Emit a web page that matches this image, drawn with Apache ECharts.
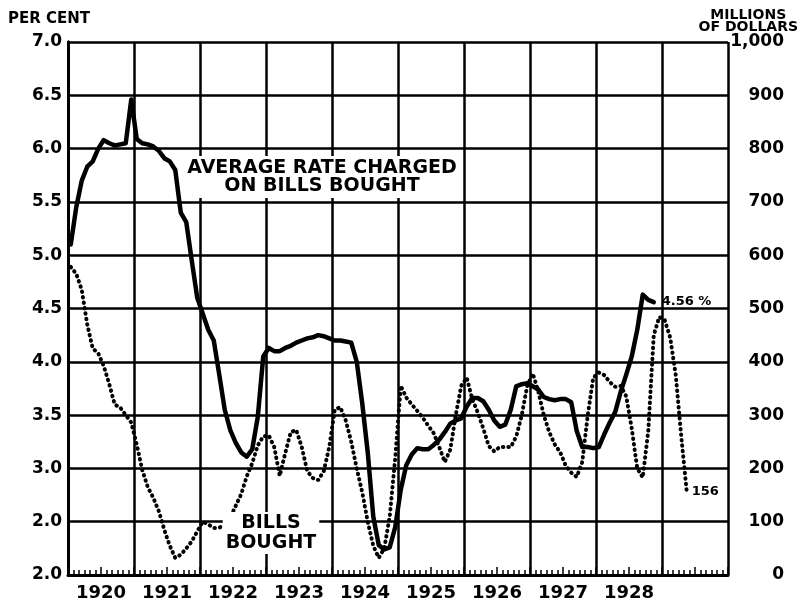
<!DOCTYPE html>
<html>
<head>
<meta charset="utf-8">
<title>Bills bought and average rate</title>
<script src="https://cdn.jsdelivr.net/npm/echarts@6/dist/echarts.min.js"></script>
<style>
  html, body { margin: 0; padding: 0; background: #fff; }
  #chart { width: 802px; height: 602px; }
</style>
</head>
<body>
<div id="chart"></div>
<script>
  const FONT = '"DejaVu Sans", sans-serif';

  // year labels, one per interval (last interval 1929 is unlabelled)
  const years = ['1920', '1921', '1922', '1923', '1924', '1925', '1926', '1927', '1928', ''];
  const rateLabels = ['2.0', '2.0', '3.0', '3.5', '4.0', '4.5', '5.0', '5.5', '6.0', '6.5', '7.0'];
  const dollarLabels = ['0', '100', '200', '300', '400', '500', '600', '700', '800', '900', '1,000'];

  // monthly values from Jan 1920
  const rate = [
    5.10, 5.45, 5.70, 5.83, 5.88, 6.00, 6.08, 6.05, 6.03, 6.04, 6.05, 6.46,
    6.09, 6.05, 6.04, 6.02, 5.98, 5.91, 5.88, 5.80, 5.40, 5.31, 4.95, 4.60,
    4.45, 4.30, 4.20, 3.88, 3.55, 3.36, 3.24, 3.15, 3.11, 3.18, 3.48, 4.05,
    4.13, 4.10, 4.10, 4.13, 4.15, 4.18, 4.20, 4.22, 4.23, 4.25, 4.24, 4.22,
    4.20, 4.20, 4.19, 4.18, 4.00, 3.61, 3.15, 2.55, 2.28, 2.24, 2.26, 2.45,
    2.80, 3.03, 3.13, 3.19, 3.18, 3.18, 3.22, 3.27, 3.34, 3.42, 3.45, 3.47,
    3.58, 3.66, 3.66, 3.63, 3.55, 3.45, 3.39, 3.41, 3.55, 3.77, 3.79, 3.80,
    3.77, 3.74, 3.67, 3.65, 3.64, 3.65, 3.65, 3.62, 3.35, 3.20, 3.20, 3.19,
    3.20, 3.32, 3.43, 3.53, 3.72, 3.88, 4.05, 4.30, 4.63, 4.58, 4.56
  ];
  const bills = [
    578, 565, 535, 470, 425, 416, 392, 358, 320, 314, 300, 286,
    245, 197, 165, 145, 120, 85, 55, 32, 38, 50, 63, 82,
    100, 95, 88, 89, 93, 107, 130, 152, 185, 210, 243, 260,
    262, 240, 186, 229, 268, 272, 240, 195, 182, 178, 195, 240,
    310, 315, 290, 250, 200, 155, 100, 55, 32, 50, 110, 220,
    355, 333, 320, 308, 295, 280, 266, 240, 212, 235, 300, 355,
    370, 330, 305, 275, 242, 232, 240, 240, 240, 260, 300, 355,
    378, 345, 300, 268, 245, 230, 205, 192, 184, 212, 300, 370,
    380, 375, 362, 353, 355, 335, 275, 200, 183, 270, 450, 484,
    478, 445, 375, 260, 156
  ];

  function monthly(arr) {
    return arr.map(function (v, i) { return [i + 0.5, v]; });
  }

  const chart = echarts.init(document.getElementById('chart'));
  const black = '#000';
  const labelStyle = { color: black, fontFamily: FONT, fontWeight: 'bold' };

  chart.setOption({
    backgroundColor: '#fff',
    animation: false,
    grid: { left: 68, right: 74, top: 42, bottom: 27 },
    xAxis: [{
      type: 'value', position: 'bottom', min: 0, max: 120, interval: 12,
      axisLine: { show: true, lineStyle: { color: black, width: 3 } },
      axisTick: { show: false, inside: true },
      minorTick: { show: true, splitNumber: 12, length: 5, lineStyle: { color: black, width: 1.5 } },
      axisLabel: { show: false },
      splitLine: { show: true, lineStyle: { color: black, width: 2.5 } }
    }, {
      type: 'value', position: 'bottom', min: 0, max: 120, interval: 6,
      axisLine: { show: false },
      axisTick: { show: true, inside: true, length: 8, lineStyle: { color: black, width: 1.5 } },
      axisLabel: { show: false },
      splitLine: { show: false }
    }, {
      type: 'category', position: 'bottom', data: years, boundaryGap: true,
      axisLine: { show: false },
      axisTick: { show: false },
      axisLabel: Object.assign({ fontSize: 18, margin: 9, interval: 0 }, labelStyle),
      splitLine: { show: false }
    }],
    yAxis: [{
      type: 'value', position: 'left', min: 2, max: 7, interval: 0.5,
      axisLine: { show: true, lineStyle: { color: black, width: 3 } },
      axisTick: { show: false },
      axisLabel: Object.assign({
        fontSize: 17, margin: 6, showMinLabel: true, showMaxLabel: true,
        formatter: function (v) { return rateLabels[Math.round((v - 2) / 0.5)]; }
      }, labelStyle),
      splitLine: { show: true, lineStyle: { color: black, width: 2.5 } }
    }, {
      type: 'value', position: 'right', min: 0, max: 1000, interval: 100,
      axisLine: { show: true, lineStyle: { color: black, width: 3 } },
      axisTick: { show: false },
      axisLabel: Object.assign({
        fontSize: 17, margin: 56, align: 'right', showMinLabel: true, showMaxLabel: true,
        formatter: function (v) { return dollarLabels[Math.round(v / 100)]; }
      }, labelStyle),
      splitLine: { show: false }
    }],
    graphic: [{
      type: 'text', left: 8, top: 12, z: 100,
      style: { text: 'PER CENT', fontSize: 15, fontWeight: 'bold', fontFamily: FONT, fill: black }
    }, {
      type: 'text', right: 4, top: 8, z: 100,
      style: {
        text: 'MILLIONS\nOF DOLLARS', fontSize: 14, fontWeight: 'bold', fontFamily: FONT, fill: black,
        lineHeight: 12, align: 'center', textAlign: 'center'
      }
    }, {
      type: 'text', x: 322, y: 156, z: 100,
      style: {
        text: 'AVERAGE RATE CHARGED\nON BILLS BOUGHT', fontSize: 19, fontWeight: 'bold', fontFamily: FONT,
        fill: black, lineHeight: 18, align: 'center', textAlign: 'center',
        backgroundColor: '#fff', padding: [3, 4]
      }
    }, {
      type: 'text', x: 271, y: 512, z: 100,
      style: {
        text: 'BILLS\nBOUGHT', fontSize: 19, fontWeight: 'bold', fontFamily: FONT,
        fill: black, lineHeight: 20, align: 'center', textAlign: 'center',
        backgroundColor: '#fff', padding: [1, 3]
      }
    }],
    series: [{
      name: 'AVERAGE RATE CHARGED ON BILLS BOUGHT',
      type: 'line', xAxisIndex: 0, yAxisIndex: 0,
      data: monthly(rate),
      symbol: 'none',
      lineStyle: { color: black, width: 4.5, join: 'round', cap: 'round' },
      endLabel: {
        show: true, distance: 8, color: black, fontFamily: FONT, fontWeight: 'bold', fontSize: 13,
        formatter: function (p) { return p.value[1].toFixed(2) + ' %'; }
      },
      z: 3
    }, {
      name: 'BILLS BOUGHT',
      type: 'line', xAxisIndex: 0, yAxisIndex: 1,
      data: monthly(bills),
      symbol: 'none',
      lineStyle: { color: black, width: 4, type: [0.5, 5], cap: 'round' },
      endLabel: {
        show: true, distance: 5, color: black, fontFamily: FONT, fontWeight: 'bold', fontSize: 13,
        formatter: function (p) { return String(p.value[1]); }
      },
      z: 2
    }]
  });
</script>
</body>
</html>
